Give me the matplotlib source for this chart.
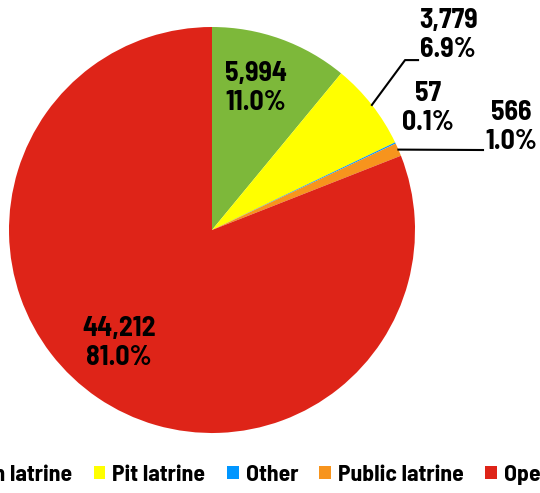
import numpy as np
import matplotlib.pyplot as plt

plt.rcParams['font.family'] = ['Barlow Semi Condensed', 'DejaVu Sans']
plt.rcParams['font.weight'] = 'bold'

categories = ['Flush latrine', 'Pit latrine', 'Other', 'Public latrine', 'Open defecation']
values = [5994, 3779, 57, 566, 44212]
percents = ['11.0%', '6.9%', '0.1%', '1.0%', '81.0%']
colors = ['#7DB83A', '#FFFF00', '#0096FF', '#F7941D', '#DE2418']

fig = plt.figure(figsize=(5.4, 4.93), dpi=100)
ax = fig.add_axes([9/540, 60/493, 406/540, 406/493])

wedges, _ = ax.pie(values, colors=colors, startangle=90, counterclock=False,
                   wedgeprops=dict(linewidth=0))
ax.set_xlim(-1, 1)
ax.set_ylim(-1, 1)
ax.set_aspect('equal')
ax.axis('off')

# label positions (data coords, pie radius = 1)
label_xy = [(0.217, 0.70), (1.163, 0.96), (1.064, 0.601), (1.473, 0.507), (-0.458, -0.559)]
for i, (x, y) in enumerate(label_xy):
    ax.text(x, y, f"{values[i]:,}\n{percents[i]}", ha='center', va='center',
            fontsize=20, fontweight='bold', linespacing=1.2)

def mid(w):
    a = np.deg2rad((w.theta1 + w.theta2) / 2)
    return np.cos(a), np.sin(a)

# leader lines
x0, y0 = mid(wedges[1])
ax.plot([x0, 0.951, 1.015], [y0, 0.837, 0.837], color='black', lw=1.5, clip_on=False)
x0, y0 = mid(wedges[3])
ax.plot([x0, 1.335], [y0, 0.394], color='black', lw=1.5, clip_on=False)

fig.legend(wedges, categories, loc='center', bbox_to_anchor=(0.552, 0.037), ncol=5,
           frameon=False, handlelength=0.5, handleheight=0.5,
           handletextpad=0.3, columnspacing=0.9, prop=dict(weight='bold', size=17))

fig.savefig('out.png', dpi=100)
